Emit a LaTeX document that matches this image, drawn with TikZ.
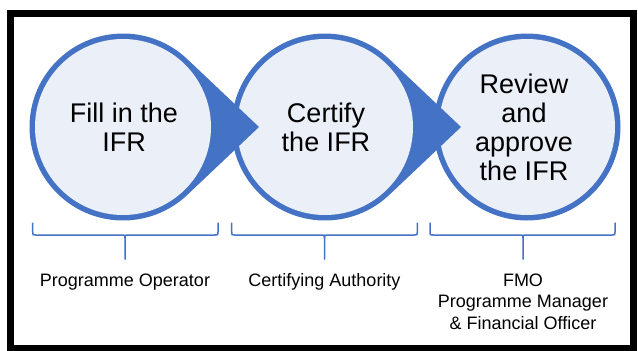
\documentclass[tikz,border=0pt]{standalone}
\usepackage{fontspec}
\setmainfont{Liberation Sans}
\definecolor{accent}{HTML}{4472C4}
\definecolor{lightfill}{HTML}{EAEFF8}
\newcommand\dropshape[1]{%
  \fill[accent] ({#1+136},127) -- ({#1+93.5*cos(46.5)},{127+93.5*sin(46.5)})
     arc[start angle=46.5, end angle=313.5, radius=93.5] -- cycle;
  \fill[lightfill] (#1,127) circle[radius=88];}
\newcommand\plaincircle[1]{%
  \fill[accent] (#1,127) circle[radius=93.5];
  \fill[lightfill] (#1,127) circle[radius=88];}
\newcommand\rolebrace[3]{%
  \draw[bracestyle] (#1,222.5) -- (#1,232) .. controls (#1,235) .. ({#1+3},235)
     -- ({#2-3},235) .. controls (#2,235) .. (#2,238) -- (#2,259.5);
  \draw[bracestyle] (#3,222.5) -- (#3,232) .. controls (#3,235) .. ({#3-3},235)
     -- ({#2+3},235) .. controls (#2,235) .. (#2,238);}
\begin{document}
\begin{tikzpicture}[x=1pt,y=-1pt,
  circtext/.style={align=center, font=\fontsize{27}{29}\selectfont, inner sep=0, anchor=base},
  role/.style={align=center, font=\fontsize{18}{21.7}\selectfont, inner sep=0, anchor=base},
  bracestyle/.style={draw=accent, line width=1.5pt}
]
\useasboundingbox (0,0) rectangle (638,351);
\fill[white] (0,0) rectangle (638,351);
% circles (drawn right to left so that each pointer lies on top)
\plaincircle{527}
\dropshape{325}
\dropshape{123}
% anchor=base puts the last line's baseline at the given point
\node[circtext] (c1) at (124,151.2) {Fill in the\\IFR};
\node[circtext] (c2) at (326,151.2) {Certify\\the IFR};
\node[circtext] (c3) at (524,180.2) {Review\\and\\approve\\the IFR};
% braces
\rolebrace{32.7}{125}{218}
\rolebrace{231.7}{324.5}{417.3}
\rolebrace{430}{523}{615}
% role labels
\node[role] (r1) at (125,286) {Programme Operator};
\node[role] (r2) at (324.5,286) {Certifying Authority};
\node[role] (r3) at (523,329.4) {FMO\\Programme Manager\\\& Financial Officer};
% frame
\draw[line width=7pt] (10.5,13.5) rectangle (633,348);
\end{tikzpicture}
\end{document}
